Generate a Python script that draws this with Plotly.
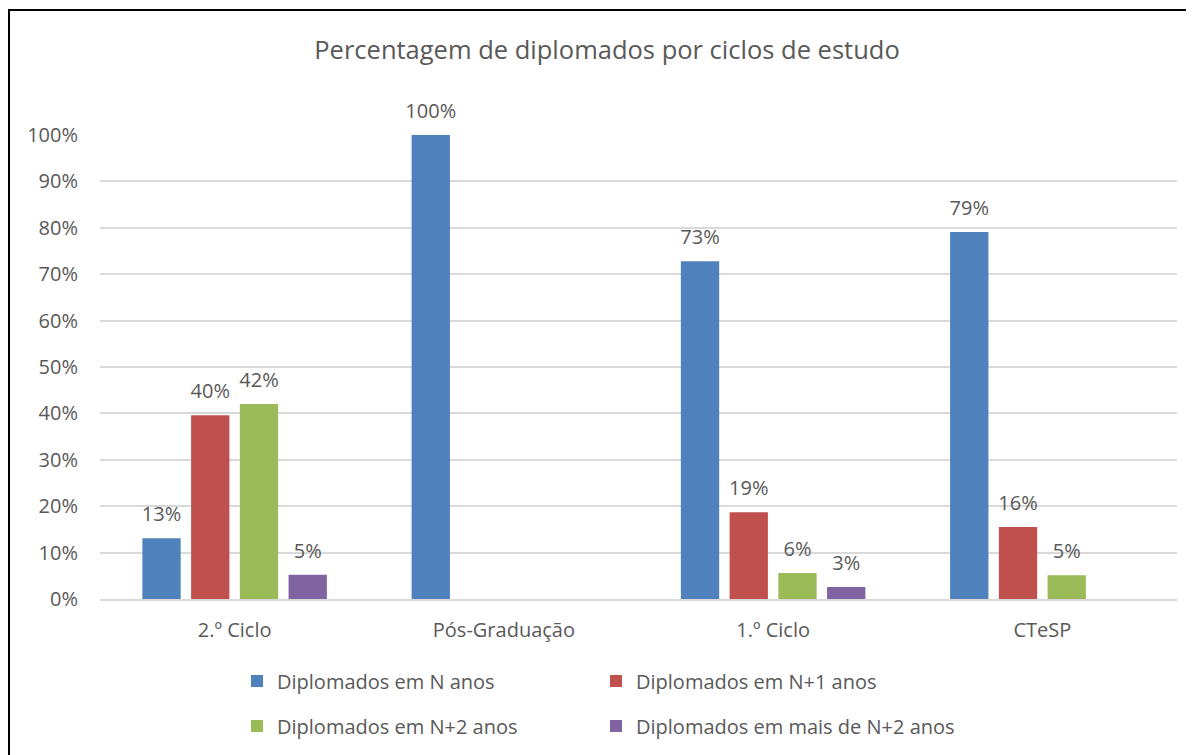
import plotly.graph_objects as go

categories = ["2.º Ciclo", "Pós-Graduação", "1.º Ciclo", "CTeSP"]
series_names = ["Diplomados em N anos", "Diplomados em N+1 anos",
                "Diplomados em N+2 anos", "Diplomados em mais de N+2 anos"]
vals_n = [0.131, 1.00, 0.728, 0.791]
vals_n1 = [0.396, None, 0.187, 0.155]
vals_n2 = [0.420, None, 0.056, 0.051]
vals_n3 = [0.052, None, 0.026, None]
colors = ["#4F81BD", "#C0504D", "#9BBB59", "#8064A2"]
tick_vals = [i / 10 for i in range(11)]
tick_text = [f"{i * 10}%" for i in range(11)]

FONT = "Open Sans, sans-serif"
TXT = "#595959"
FS = 20

# page offset of the plot div (browser default body margin)
OFF = 8
W, H = 1194 - OFF, 755 - OFF
L = 100 - OFF
R = W - (1177 - OFF)
T = 135 - OFF
B = H - (599 - OFF)
pw = W - L - R
ph = H - T - B


def px_x(p):
    return (p - OFF - L) / pw


def px_y(p):
    return (H - B - (p - OFF)) / ph


BARGAP = 0.276

fig = go.Figure()
all_vals = [vals_n, vals_n1, vals_n2, vals_n3]
legends = ["legend", "legend", "legend2", "legend2"]
for i, (name, vals, col, lg) in enumerate(zip(series_names, all_vals, colors, legends)):
    fig.add_trace(go.Bar(
        x=categories, y=vals, name=name,
        marker=dict(color=col, line=dict(width=0)),
        offsetgroup=str(i), alignmentgroup="g",
        legend=lg,
    ))
for i, vals in enumerate(all_vals):
    fig.add_trace(go.Scatter(
        x=categories, y=vals, mode="markers+text",
        marker=dict(size=18, color="rgba(0,0,0,0)"),
        text=[None if v is None else f"{round(v * 100):.0f}%" for v in vals],
        textposition="top center", cliponaxis=False,
        textfont=dict(family=FONT, size=FS, color=TXT),
        offsetgroup=str(i), alignmentgroup="g",
        showlegend=False, hoverinfo="skip",
    ))

fig.update_layout(
    width=W, height=H,
    margin=dict(l=L, r=R, t=T, b=B, autoexpand=False),
    paper_bgcolor="white", plot_bgcolor="white",
    barmode="group", bargap=BARGAP, bargroupgap=0.214,
    scattermode="group", scattergap=BARGAP,
    font=dict(family=FONT, color=TXT, size=FS),
    title=dict(text="Percentagem de diplomados por ciclos de estudo",
               x=px_x(607), xanchor="center", xref="paper",
               y=1 - (50 - OFF) / H, yanchor="middle",
               font=dict(family=FONT, size=25.5, color=TXT)),
    showlegend=True,
    legend=dict(orientation="h", x=px_x(237), xanchor="left",
                y=px_y(681), yanchor="middle", entrywidth=314,
                font=dict(family=FONT, size=FS, color=TXT),
                bgcolor="rgba(0,0,0,0)"),
    legend2=dict(orientation="h", x=px_x(237), xanchor="left",
                 y=px_y(726), yanchor="middle", entrywidth=314,
                 font=dict(family=FONT, size=FS, color=TXT),
                 bgcolor="rgba(0,0,0,0)"),
)
fig.update_yaxes(range=[0, 1.0], tickvals=tick_vals, ticktext=tick_text,
                 showgrid=True, gridcolor="#D9D9D9", gridwidth=1.5,
                 zeroline=False, showline=False, ticks="",
                 ticklabelstandoff=21,
                 tickfont=dict(family=FONT, size=FS, color=TXT))
fig.update_xaxes(showgrid=False, showline=True, linecolor="#D9D9D9", linewidth=1.5,
                 ticks="", ticklabelstandoff=12,
                 tickfont=dict(family=FONT, size=FS, color=TXT))

fig.add_shape(type="rect", xref="paper", yref="paper",
              x0=px_x(OFF + 1), x1=px_x(1190), y0=px_y(800), y1=px_y(10),
              line=dict(color="black", width=2), fillcolor="rgba(0,0,0,0)",
              layer="above")

fig.write_html("out.html")
